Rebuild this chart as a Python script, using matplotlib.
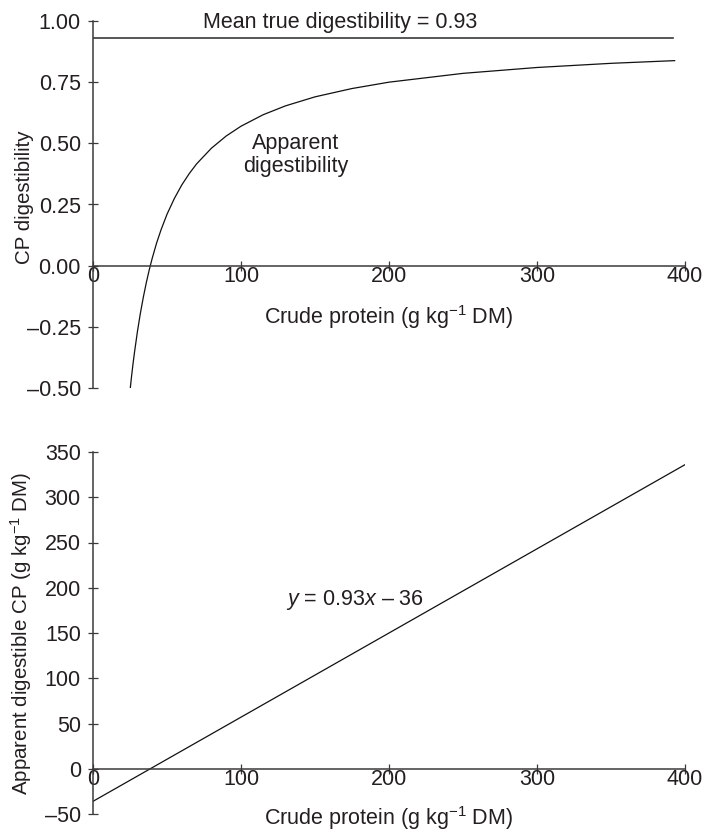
"""
CP digestibility vs crude protein (two panels).
"""

import matplotlib.pyplot as plt

plt.rcParams['font.family'] = ['Liberation Sans', 'DejaVu Sans']
plt.rcParams['mathtext.fontset'] = 'custom'
plt.rcParams['mathtext.rm'] = 'Liberation Sans'
plt.rcParams['mathtext.it'] = 'Liberation Sans:italic'

TXT = '#231f20'
FS = 15.5

# data
cp_curve = [25.2, 26, 27, 28, 30, 32, 34, 36, 38, 40, 43, 46, 50, 55, 60, 65, 70,
            80, 90, 100, 115, 130, 150, 175, 200, 250, 300, 350, 393]
apparent_dig = [-0.50, -0.455, -0.403, -0.356, -0.27, -0.195, -0.129, -0.07, -0.017,
                0.03, 0.093, 0.147, 0.21, 0.275, 0.33, 0.376, 0.416, 0.48, 0.53,
                0.57, 0.617, 0.653, 0.69, 0.724, 0.75, 0.786, 0.81, 0.827, 0.838]
true_x = [0, 392]
true_dig = [0.93, 0.93]

cp_line = [0, 400]
adcp = [-36, 336]

x_ticks = [0, 100, 200, 300, 400]
top_yticks = [1.0, 0.75, 0.5, 0.25, 0.0, -0.25, -0.5]
top_ylabels = ['1.00', '0.75', '0.50', '0.25', '0.00', '\u20130.25', '\u20130.50']
bot_yticks = [350, 300, 250, 200, 150, 100, 50, 0, -50]
bot_ylabels = ['350', '300', '250', '200', '150', '100', '50', '0', '\u201350']

fig = plt.figure(figsize=(7.07, 8.30), dpi=100)
ax1 = fig.add_axes([93 / 707, 1 - 388 / 830, 592 / 707, 367 / 830])
ax2 = fig.add_axes([93 / 707, 1 - 814 / 830, 592 / 707, 362 / 830])


def style(ax, ylim, yticks, ylabels, ylabel, ylab_y):
    ax.set_xlim(0, 400)
    ax.set_ylim(*ylim)
    for s in ['top', 'right']:
        ax.spines[s].set_visible(False)
    ax.spines['bottom'].set_position(('data', 0))
    for s in ['bottom', 'left']:
        ax.spines[s].set_color('#3a3a3a')
        ax.spines[s].set_linewidth(1.1)
    ax.set_xticks(x_ticks)
    ax.set_xticklabels([str(v) for v in x_ticks])
    ax.set_yticks(yticks)
    ax.set_yticklabels(ylabels)
    ax.tick_params(axis='x', direction='inout', length=7, width=0.9,
                   color='#3a3a3a', pad=-3.2, labelsize=FS, labelcolor=TXT)
    ax.tick_params(axis='y', direction='inout', length=6.5, width=0.9,
                   color='#3a3a3a', pad=5.5, labelsize=FS, labelcolor=TXT)
    ax.set_ylabel(ylabel, fontsize=14.8, color=TXT)
    ax.yaxis.set_label_coords(-0.099, ylab_y)
    ax.patch.set_visible(False)


style(ax1, (-0.5, 1.0), top_yticks, top_ylabels, 'CP digestibility', 0.52)
ax1.plot(true_x, true_dig, color='#3a3a3a', lw=1.2)
ax1.plot(cp_curve, apparent_dig, color='#111111', lw=0.9)
ax1.text(167, 0.995, 'Mean true digestibility = 0.93', ha='center', va='center',
         fontsize=FS, color=TXT, clip_on=False)
ax1.text(137, 0.452, 'Apparent\ndigestibility', ha='center', va='center',
         fontsize=FS, color=TXT, linespacing=1.1)
ax1.text(200, -0.21, 'Crude protein (g kg$^{-1}$ DM)', ha='center', va='center',
         fontsize=FS, color=TXT)

style(ax2, (-50, 350), bot_yticks, bot_ylabels,
      'Apparent digestible CP (g kg$^{-1}$ DM)', 0.5)
ax2.plot(cp_line, adcp, color='#111111', lw=0.9)
ax2.text(177, 186, '$y$ = 0.93$x$ \u2013 36', ha='center', va='center',
         fontsize=FS, color=TXT)
ax2.text(200, -54, 'Crude protein (g kg$^{-1}$ DM)', ha='center', va='center',
         fontsize=FS, color=TXT, clip_on=False)

fig.savefig('out.png', dpi=100, facecolor='white')
